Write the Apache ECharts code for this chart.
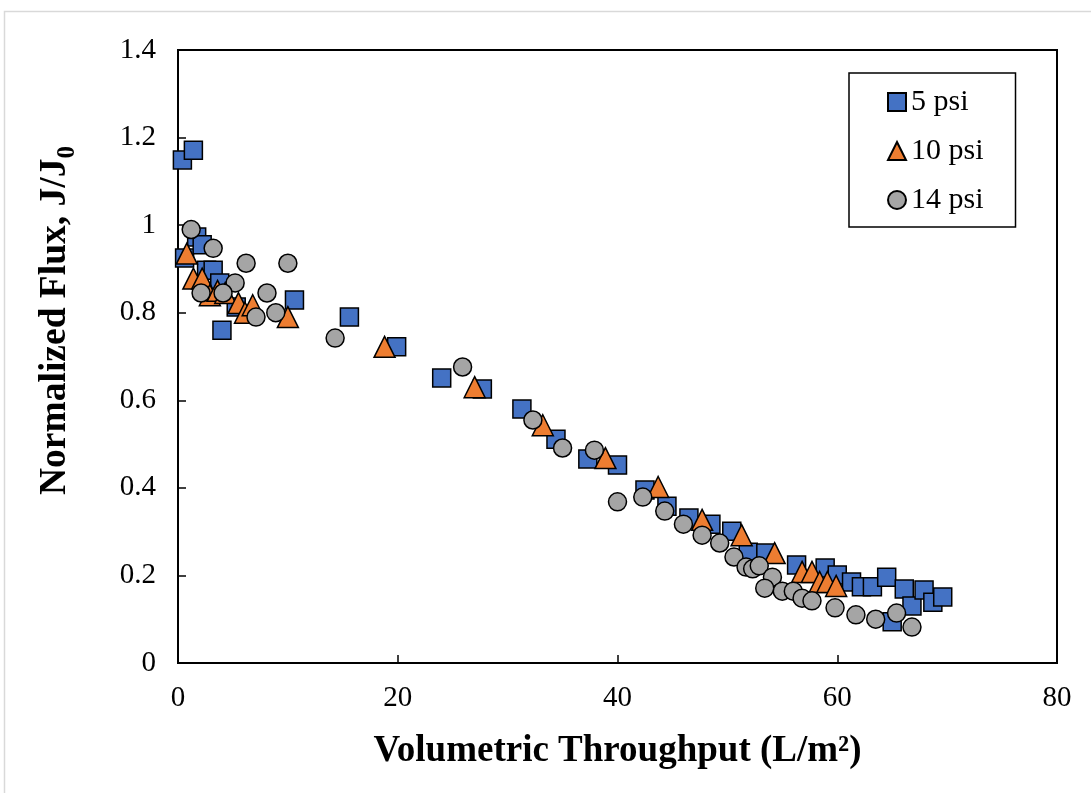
<!DOCTYPE html>
<html>
<head>
<meta charset="utf-8">
<script src="https://cdn.jsdelivr.net/npm/echarts@6/dist/echarts.min.js"></script>
<style>
html,body{margin:0;padding:0;background:#fff;}
#chart{width:1091px;height:793px;}
</style>
</head>
<body>
<div id="chart"></div>
<script>
// 5 psi
var x5 = [0.4,1.4,0.6,1.7,2.2,2.6,3.2,3.8,5.3,4.0,10.6,15.6,19.9,24.0,27.7,31.3,34.4,37.3,40.0,42.5,44.5,46.5,48.5,50.4,51.9,53.5,56.3,58.9,60.0,61.3,62.2,63.2,64.5,65.0,66.1,66.8,67.9,68.7,69.6];
var y5 = [1.149,1.171,0.925,0.973,0.955,0.897,0.897,0.868,0.813,0.76,0.829,0.79,0.722,0.651,0.626,0.58,0.511,0.466,0.452,0.395,0.358,0.331,0.317,0.301,0.253,0.251,0.224,0.217,0.201,0.185,0.174,0.174,0.196,0.094,0.169,0.130,0.167,0.139,0.151];
// 10 psi
var x10 = [0.8,1.4,2.2,2.9,3.6,4.3,5.5,6.1,6.8,10.0,18.8,27.0,33.2,38.9,43.7,47.7,51.3,54.3,56.8,57.7,58.4,59.1,59.9];
var y10 = [0.935,0.878,0.878,0.84,0.85,0.845,0.822,0.80,0.817,0.79,0.722,0.63,0.543,0.468,0.402,0.327,0.292,0.251,0.208,0.208,0.185,0.185,0.176];
// 14 psi
var x14 = [1.2,3.2,6.2,10.0,5.2,2.1,4.1,8.1,7.1,8.9,14.3,25.9,32.3,35.0,37.9,40.0,42.3,44.3,46.0,47.7,49.3,50.6,51.7,52.3,52.9,54.1,53.4,55.0,56.0,56.8,57.7,59.8,61.7,63.5,65.4,66.8];
var y14 = [0.99,0.947,0.913,0.913,0.868,0.845,0.845,0.845,0.79,0.8,0.742,0.676,0.555,0.491,0.486,0.368,0.379,0.347,0.317,0.292,0.274,0.242,0.219,0.215,0.222,0.196,0.171,0.164,0.164,0.148,0.142,0.126,0.11,0.1,0.114,0.082];

var seriesNames = ['5 psi','10 psi','14 psi'];
var xAxisTitle = 'Volumetric Throughput (L/m\u00B2)';
var yAxisTitleMain = 'Normalized Flux, J/J';
var yAxisTitleSub = '0';

function pairs(xs, ys){ return xs.map(function(v,i){ return [v, ys[i]]; }); }

var FONT = "'Liberation Serif','Times New Roman',serif";
var chart = echarts.init(document.getElementById('chart'), null, {renderer:'canvas'});
chart.setOption({
  animation: false,
  backgroundColor: '#fff',
  graphic: [{
    type: 'rect', z: -10,
    shape: {x: 4.5, y: 11.5, width: 1200, height: 900},
    style: {fill: null, stroke: '#d9d9d9', lineWidth: 1.5}
  }],
  grid: {left: 178, right: 34, top: 50, bottom: 130, show: true, borderColor: '#000', borderWidth: 2, backgroundColor: 'transparent'},
  legend: {
    orient: 'vertical', left: 849, top: 73,
    padding: [14, 32, 12, 38],
    itemGap: 19, itemWidth: 18, itemHeight: 18,
    borderColor: '#000', borderWidth: 1.5,
    textStyle: {fontFamily: FONT, fontSize: 30, color: '#000'},
    data: seriesNames
  },
  xAxis: {
    type: 'value', min: 0, max: 80, interval: 20,
    name: xAxisTitle, nameLocation: 'middle', nameGap: 70,
    nameTextStyle: {fontFamily: FONT, fontSize: 37, fontWeight: 'bold', color: '#000'},
    axisLine: {show: true, lineStyle: {color: '#000', width: 2}},
    axisTick: {show: true, inside: true, length: 8, lineStyle: {color: '#000', width: 1.5}},
    axisLabel: {fontFamily: FONT, fontSize: 29, color: '#000', margin: 21},
    splitLine: {show: false}
  },
  yAxis: {
    type: 'value', min: 0, max: 1.4, interval: 0.2,
    name: '{a|' + yAxisTitleMain + '}{b|' + yAxisTitleSub + '}',
    nameLocation: 'middle', nameGap: 98, nameRotate: 90,
    nameTextStyle: {
      padding: [0, 0, 0, 72],
      rich: {
        a: {fontFamily: FONT, fontSize: 37.5, fontWeight: 'bold', color: '#000'},
        b: {fontFamily: FONT, fontSize: 25, fontWeight: 'bold', color: '#000', verticalAlign: 'bottom', padding: [24, 0, 0, 0]}
      }
    },
    axisLine: {show: true, lineStyle: {color: '#000', width: 2}},
    axisTick: {show: true, inside: true, length: 8, lineStyle: {color: '#000', width: 1.5}},
    axisLabel: {fontFamily: FONT, fontSize: 29, color: '#000', margin: 22},
    splitLine: {show: false}
  },
  series: [
    {name: seriesNames[0], type: 'scatter', symbol: 'rect', symbolSize: 18,
     itemStyle: {color: '#4472C4', borderColor: '#000', borderWidth: 1.5, opacity: 1},
     data: pairs(x5, y5)},
    {name: seriesNames[1], type: 'scatter', symbol: 'triangle', symbolSize: 21,
     itemStyle: {color: '#ED7D31', borderColor: '#000', borderWidth: 1.5, opacity: 1},
     data: pairs(x10, y10)},
    {name: seriesNames[2], type: 'scatter', symbol: 'circle', symbolSize: 18,
     itemStyle: {color: '#A5A5A5', borderColor: '#000', borderWidth: 1.5, opacity: 1},
     data: pairs(x14, y14)}
  ]
});
</script>
</body>
</html>
